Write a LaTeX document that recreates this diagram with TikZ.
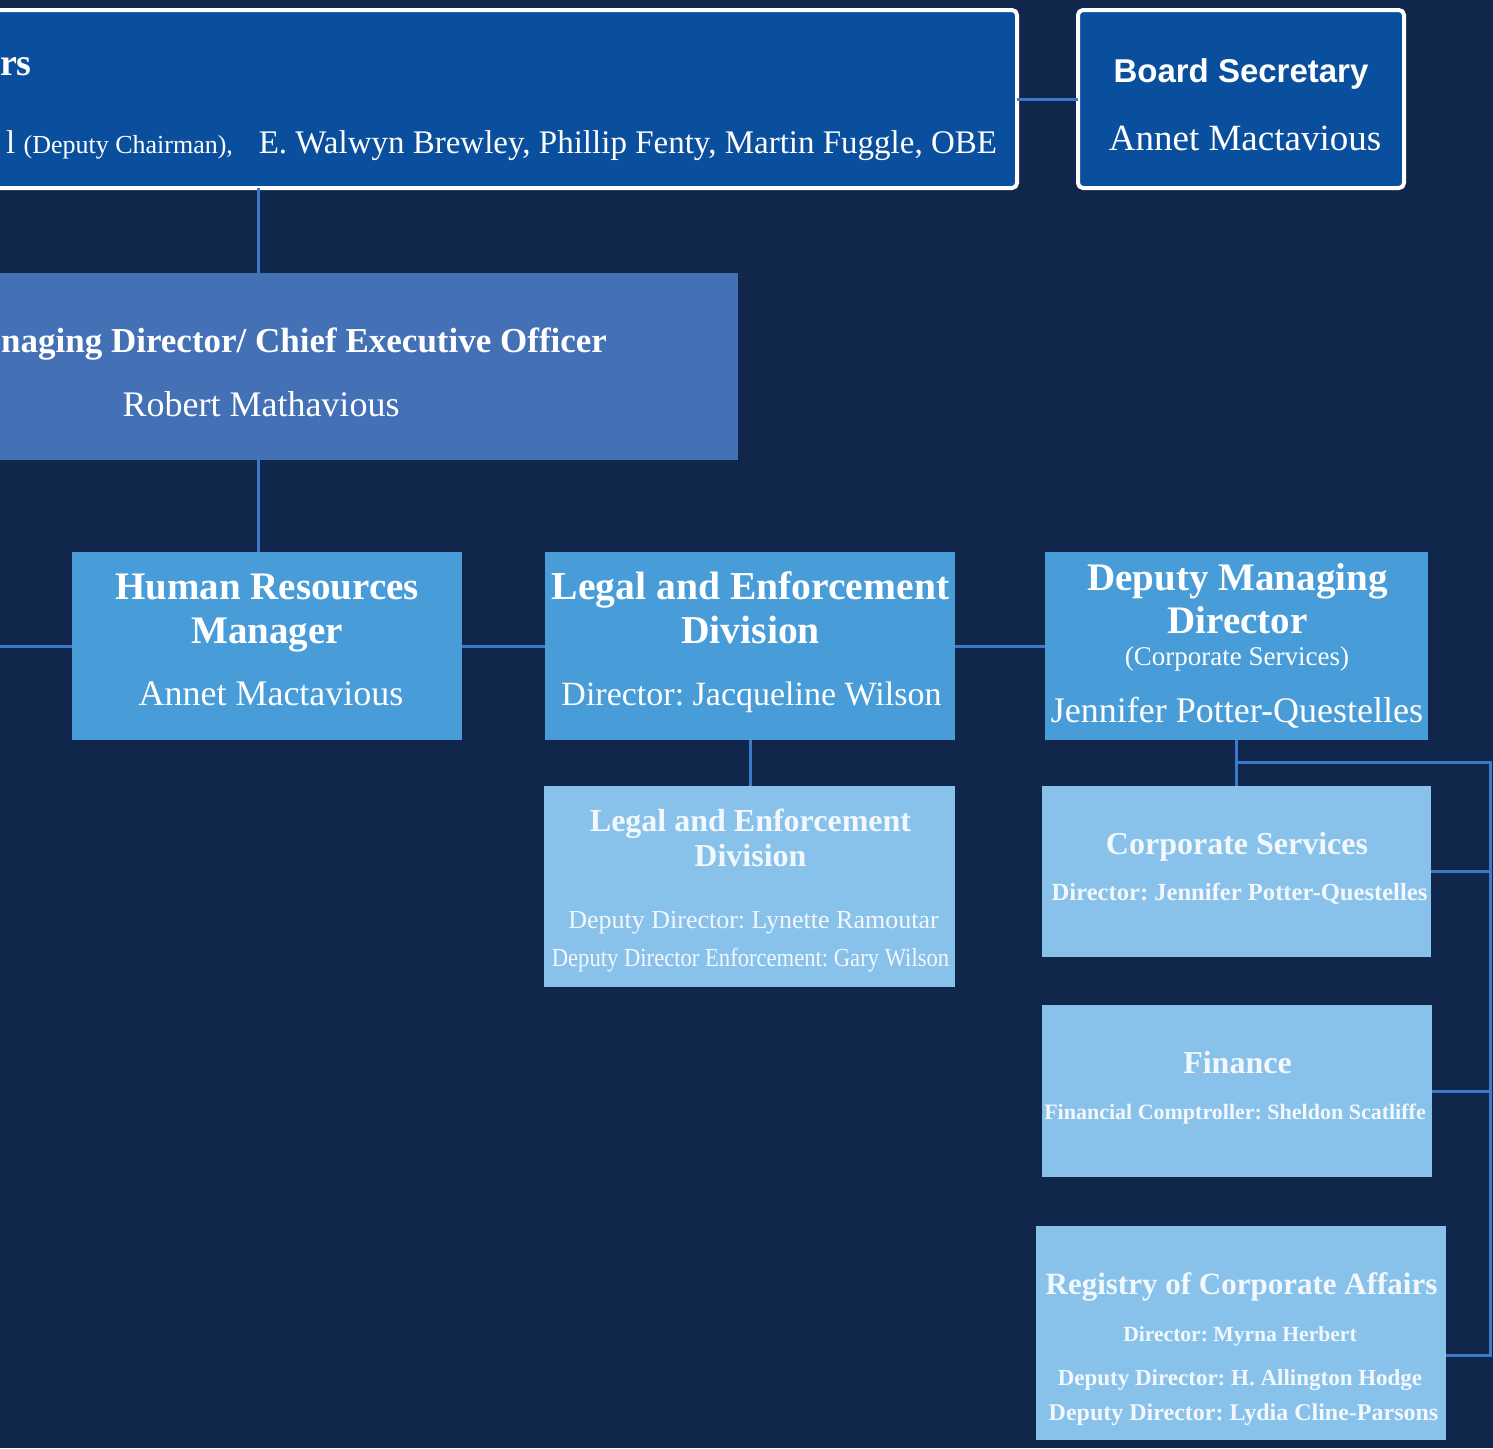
\documentclass[tikz,border=0pt]{standalone}
\usepackage{fontspec}
\setmainfont{Liberation Serif}
\newfontfamily\arialfont{Liberation Sans}
\definecolor{bgc}{HTML}{11264B}
\definecolor{boardc}{HTML}{0A4F9D}
\definecolor{ceoc}{HTML}{4470B5}
\definecolor{midc}{HTML}{489CD8}
\definecolor{lightc}{HTML}{88C2EB}
\definecolor{linec}{HTML}{3C79CB}
\definecolor{paletxt}{HTML}{F2F8FD}
\newcommand\fs[1]{\fontsize{#1}{#1}\selectfont}
\frenchspacing
\begin{document}
\begin{tikzpicture}[x=0.5pt,y=-0.5pt,
  box/.style={rectangle, draw=none, inner sep=0pt, outer sep=0pt},
  topbox/.style={box, fill=boardc, draw=white, line width=2pt, rounded corners=2.5pt},
  ceobox/.style={box, fill=ceoc},
  midbox/.style={box, fill=midc},
  lightbox/.style={box, fill=lightc},
  txt/.style={inner sep=0pt, outer sep=0pt, text=white, anchor=base},
  ltxt/.style={txt, text=paletxt},
  conn/.style={draw=linec, line width=1.5pt}]
\useasboundingbox (0,0) rectangle (1493,1448);
\clip (0,0) rectangle (1493,1448);
\fill[bgc] (0,0) rectangle (1493,1448);

% boxes
\node[topbox, minimum width=708.5pt, minimum height=89pt] (board) at (308.5,99) {};
\node[topbox, minimum width=163pt, minimum height=89pt] (bsec) at (1241,99) {};
\node[ceobox, minimum width=569pt, minimum height=93.5pt] (ceo) at (169,366.5) {};
\node[midbox, minimum width=195pt, minimum height=94pt] (hr) at (267,646) {};
\node[midbox, minimum width=205pt, minimum height=94pt] (legal) at (750,646) {};
\node[midbox, minimum width=191.5pt, minimum height=94pt] (dmd) at (1236.5,646) {};
\node[lightbox, minimum width=205.5pt, minimum height=100.5pt] (legsub) at (749.5,886.5) {};
\node[lightbox, minimum width=194.5pt, minimum height=85.5pt] (corp) at (1236.5,871.5) {};
\node[lightbox, minimum width=195pt, minimum height=86pt] (fin) at (1237,1091) {};
\node[lightbox, minimum width=205pt, minimum height=107pt] (reg) at (1241,1333) {};

% connectors
\coordinate (vx) at (258,0);
\coordinate (busL) at (0,646);
\coordinate (rbTop) at (1490,762);
\coordinate (rbBot) at (1490,1355);
\draw[conn] (board.east) -- (bsec.west);
\draw[conn] (board.south -| vx) -- (ceo.north -| vx);
\draw[conn] (ceo.south -| vx) -- (hr.north -| vx);
\draw[conn] (busL) -- (hr.west);
\draw[conn] (hr.east) -- (legal.west);
\draw[conn] (legal.east) -- (dmd.west);
\draw[conn] (legal.south) -- (legal.south |- legsub.north);
\draw[conn] (dmd.south) -- (dmd.south |- corp.north);
\draw[conn] (dmd.south |- rbTop) -- (rbTop) -- (rbBot) -- (rbBot -| reg.east);
\draw[conn] (corp.east) -- (corp.east -| rbTop);
\draw[conn] (fin.east) -- (fin.east -| rbTop);

% board texts
\node[txt, anchor=base west, font=\bfseries\fs{19pt}] (bt1) at (0,75) {rs};
\node[txt, anchor=base east] (bt2) at (233,153) {\fs{16.5pt}l \fs{13pt}(Deputy Chairman),};
\node[txt, anchor=base east, font=\fs{16.5pt}] (bt3) at (997,153) {E. Walwyn Brewley, Phillip Fenty, Martin Fuggle, OBE};
\node[txt, font=\arialfont\bfseries\fs{16.5pt}] (bs1) at (1241,82) {Board Secretary};
\node[txt, font=\fs{18.5pt}] (bs2) at (1245,150) {Annet Mactavious};

% CEO
\node[txt, anchor=base east, font=\bfseries\fs{17.5pt}] (c1) at (607,352) {naging Director/ Chief Executive Officer};
\node[txt, font=\fs{18pt}] (c2) at (261,416) {Robert Mathavious};

% HR
\node[txt, font=\bfseries\fs{19.5pt}] (h1) at (267,599) {Human Resources};
\node[txt, font=\bfseries\fs{19.5pt}] (h2) at (267,643) {Manager};
\node[txt, font=\fs{18pt}] (h3) at (271,705) {Annet Mactavious};

% Legal
\node[txt, font=\bfseries\fs{19.8pt}] (l1) at (750.5,599) {Legal and Enforcement};
\node[txt, font=\bfseries\fs{19.8pt}] (l2) at (750.5,643) {Division};
\node[txt, font=\fs{17pt}] (l3) at (751.5,705) {Director: Jacqueline Wilson};

% DMD
\node[txt, font=\bfseries\fs{19.5pt}] (d1) at (1237.5,590) {Deputy Managing};
\node[txt, font=\bfseries\fs{19.5pt}] (d2) at (1237.5,633) {Director};
\node[txt, font=\fs{13.5pt}] (d3) at (1237,665) {(Corporate Services)};
\node[txt, font=\fs{18pt}] (d4) at (1237,722) {Jennifer Potter-Questelles};

% Legal sub
\node[ltxt, font=\bfseries\fs{16pt}] (ls1) at (750.5,831) {Legal and Enforcement};
\node[ltxt, font=\bfseries\fs{16pt}] (ls2) at (750.5,866) {Division};
\node[ltxt, font=\fs{13pt}] (ls3) at (753.5,928) {Deputy Director: Lynette Ramoutar};
\node[ltxt, font=\fs{13pt}] (ls4) at (750.5,966) {\scalebox{0.87}[1]{Deputy Director Enforcement: Gary Wilson}};

% Corporate services
\node[ltxt, font=\bfseries\fs{16pt}] (cs1) at (1237,854) {Corporate Services};
\node[ltxt, font=\bfseries\fs{12.3pt}] (cs2) at (1239.5,900) {Director: Jennifer Potter-Questelles};

% Finance
\node[ltxt, font=\bfseries\fs{16pt}] (f1) at (1237.5,1073) {Finance};
\node[ltxt, font=\bfseries\fs{11pt}] (f2) at (1235,1119) {Financial Comptroller: Sheldon Scatliffe};

% Registry
\node[ltxt, font=\bfseries\fs{15.5pt}] (r1) at (1241.5,1294) {Registry of Corporate Affairs};
\node[ltxt, font=\bfseries\fs{10.8pt}] (r2) at (1240,1341) {Director: Myrna Herbert};
\node[ltxt, font=\bfseries\fs{11.5pt}] (r3) at (1240,1385) {Deputy Director: H. Allington Hodge};
\node[ltxt, font=\bfseries\fs{12pt}] (r4) at (1243.5,1420) {Deputy Director: Lydia Cline-Parsons};
\end{tikzpicture}
\end{document}
